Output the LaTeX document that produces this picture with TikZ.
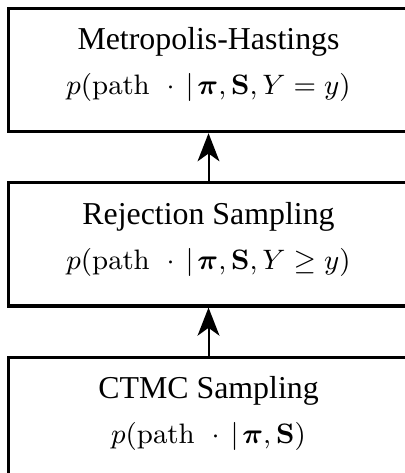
\documentclass[tikz,border=0pt]{standalone}
\usepackage{amsmath}
\usepackage{amssymb}
\usepackage[no-math]{fontspec}
\setmainfont{Liberation Serif}
\usepackage{tikz}
\usetikzlibrary{arrows.meta, positioning}

\newcommand{\pathgiven}{\mathrm{path}\hspace{5.4pt}{\cdot}\hspace{3.5pt}|\hspace{1.2pt}\boldsymbol{\pi}}
\newcommand{\mathline}[1]{\fontsize{9.5}{11}\selectfont $#1$\rule[-5.6pt]{0pt}{1pt}}

\begin{document}
\begin{tikzpicture}[
        node distance=15.4pt,
        sampler/.style={rectangle, draw=black, fill=white, minimum width=128pt, minimum height=39.4pt, align=center, line width=1pt, inner sep=0pt, font=\fontsize{10.2}{12.4}\selectfont},
        arrow/.style={-{Stealth[length=9pt, width=7pt, inset=2.5pt]}, line width=0.65pt, black}
    ]

    \useasboundingbox (0,0) rectangle (129.6pt,-151.4pt);

    \node[sampler, anchor=north west] (mh) at (2.24pt,-2.24pt) {Metropolis-Hastings\\[2pt]\mathline{p(\pathgiven, \mathbf{S}, Y = y)}};
    \node[sampler, below=of mh] (rejection) {Rejection Sampling\\[2pt]\mathline{p(\pathgiven, \mathbf{S}, Y \geq y)}};
    \node[sampler, below=of rejection] (ctmc) {CTMC Sampling\\[2pt]\mathline{p(\pathgiven, \mathbf{S})}};

    \draw[arrow] (ctmc) -- (rejection);
    \draw[arrow] (rejection) -- (mh);

    \end{tikzpicture}
\end{document}
